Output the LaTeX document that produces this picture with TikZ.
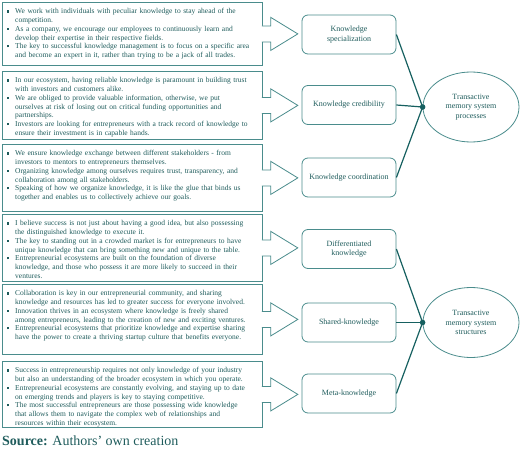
\documentclass[tikz,border=0pt]{standalone}
\usepackage{fontspec}
\setmainfont{Liberation Serif}
\usepackage{enumitem}
\usetikzlibrary{shapes.geometric,positioning}
\definecolor{tmsteal}{RGB}{74,140,140}
\definecolor{tmstext}{RGB}{31,92,92}
\definecolor{tmslink}{RGB}{22,96,96}
\setlist[itemize]{label=\rule[1.4pt]{2.2pt}{2.2pt}, leftmargin=9pt, labelsep=6.5pt,
  itemsep=0pt, topsep=0pt, parsep=0pt, partopsep=0pt}

% block arrow leaving a quote box on its right side
\newcommand{\quotearrow}[1]{%
  \path[draw=tmsteal, line width=0.8pt, fill=white, line join=miter]
    ([xshift=-1pt,yshift=8pt]#1.east) -- ++(9,0) -- ++(0,-8.5) -- ++(27,16.5)
    -- ++(-27,16.5) -- ++(0,-8.5) -- ++(-9,0);}

\begin{document}
\begin{tikzpicture}[x=1pt, y=-1pt,
  quote/.style={draw=tmsteal, line width=0.8pt, minimum width=260pt,
                anchor=north west, inner sep=0pt},
  quotetext/.style={anchor=north west, text width=250pt, inner xsep=4pt, inner ysep=3pt,
                    font=\fontsize{7.5}{8.7}\selectfont, text=tmstext},
  concept/.style={draw=tmsteal, line width=0.8pt, rounded corners=6pt,
                  minimum width=94pt, minimum height=39pt, align=center,
                  font=\fontsize{8}{9.4}\selectfont, text=tmstext},
  tms/.style={ellipse, draw=tmsteal, line width=0.8pt, minimum width=96pt,
              minimum height=70pt, inner sep=0pt, align=center,
              font=\fontsize{8}{9.4}\selectfont, text=tmstext},
  link/.style={draw=tmslink, line width=1.2pt},
]
  \useasboundingbox (0,0) rectangle (520,455);

  % ---- Quote boxes ----
  \node[quote, minimum height=63pt] (q1) at (2,2) {};
  \node[quotetext] (t1) at (q1.north west) {\begin{itemize}
    \item We work with individuals with peculiar knowledge to stay ahead of the\newline competition.
    \item As a company, we encourage our employees to continuously learn and\newline develop their expertise in their respective fields.
    \item The key to successful knowledge management is to focus on a specific area\newline and become an expert in it, rather than trying to be a jack of all trades.
  \end{itemize}};
  \node[quote, minimum height=68pt] (q2) at (2,71) {};
  \node[quotetext] (t2) at (q2.north west) {\begin{itemize}
    \item In our ecosystem, having reliable knowledge is paramount in building trust\newline with investors and customers alike.
    \item We are obliged to provide valuable information, otherwise, we put\newline ourselves at risk of losing out on critical funding opportunities and\newline partnerships.
    \item Investors are looking for entrepreneurs with a track record of knowledge to\newline ensure their investment is in capable hands.
  \end{itemize}};
  \node[quote, minimum height=67pt] (q3) at (2,144) {};
  \node[quotetext] (t3) at (q3.north west) {\begin{itemize}
    \item We ensure knowledge exchange between different stakeholders - from\newline investors to mentors to entrepreneurs themselves.
    \item Organizing knowledge among ourselves requires trust, transparency, and\newline collaboration among all stakeholders.
    \item Speaking of how we organize knowledge, it is like the glue that binds us\newline together and enables us to collectively achieve our goals.
  \end{itemize}};
  \node[quote, minimum height=67pt] (q4) at (2,214) {};
  \node[quotetext] (t4) at (q4.north west) {\begin{itemize}
    \item I believe success is not just about having a good idea, but also possessing\newline the distinguished knowledge to execute it.
    \item The key to standing out in a crowded market is for entrepreneurs to have\newline unique knowledge that can bring something new and unique to the table.
    \item Entrepreneurial ecosystems are built on the foundation of diverse\newline knowledge, and those who possess it are more likely to succeed in their\newline ventures.
  \end{itemize}};
  \node[quote, minimum height=70pt] (q5) at (2,284) {};
  \node[quotetext] (t5) at (q5.north west) {\begin{itemize}
    \item Collaboration is key in our entrepreneurial community, and sharing\newline knowledge and resources has led to greater success for everyone involved.
    \item Innovation thrives in an ecosystem where knowledge is freely shared\newline among entrepreneurs, leading to the creation of new and exciting ventures.
    \item Entrepreneurial ecosystems that prioritize knowledge and expertise sharing\newline have the power to create a thriving startup culture that benefits everyone.
  \end{itemize}};
  \node[quote, minimum height=66pt] (q6) at (2,361) {};
  \node[quotetext] (t6) at (q6.north west) {\begin{itemize}
    \item Success in entrepreneurship requires not only knowledge of your industry\newline but also an understanding of the broader ecosystem in which you operate.
    \item Entrepreneurial ecosystems are constantly evolving, and staying up to date\newline on emerging trends and players is key to staying competitive.
    \item The most successful entrepreneurs are those possessing wide knowledge\newline that allows them to navigate the complex web of relationships and\newline resources within their ecosystem.
  \end{itemize}};

  \quotearrow{q1} \quotearrow{q2} \quotearrow{q3}
  \quotearrow{q4} \quotearrow{q5} \quotearrow{q6}

  % ---- Dimensions ----
  \node[concept] (spec) at (349,34.5) {Knowledge\\specialization};
  \node[concept] (cred) at (349,105) {Knowledge credibility};
  \node[concept] (coord) at (349,177.5) {Knowledge coordination};
  \node[concept] (diff) at (349,249) {Differentiated\\knowledge};
  \node[concept] (shared) at (349,322.5) {Shared-knowledge};
  \node[concept] (meta) at (349,393.5) {Meta-knowledge};

  % ---- TMS constructs ----
  \node[tms] (proc) at (471,107) {Transactive\\memory system\\processes};
  \node[tms] (struc) at (471,322.5) {Transactive\\memory system\\structures};

  \draw[link] (spec.east) -- (proc.west);
  \draw[link] (cred.east) -- (proc.west);
  \draw[link] (coord.east) -- (proc.west);
  \fill[tmslink] (proc.west) circle (2.8pt);
  \draw[link] (diff.east) -- (struc.west);
  \draw[link] (shared.east) -- (struc.west);
  \draw[link] (meta.east) -- (struc.west);
  \fill[tmslink] (struc.west) circle (2.8pt);

  \node[anchor=base west, inner sep=0pt, font=\fontsize{14}{16}\selectfont, text=tmstext]
    (src) at (2,445) {\textbf{Source:} Authors’ own creation};
\end{tikzpicture}
\end{document}
